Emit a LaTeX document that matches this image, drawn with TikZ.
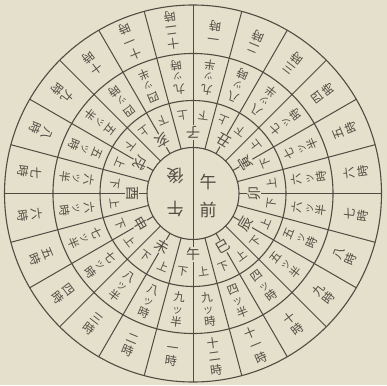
\documentclass[tikz,border=0pt]{standalone}
\usepackage{fontspec}
\newfontfamily\jp{Noto Sans CJK JP}
\definecolor{bg}{RGB}{229,224,204}
\definecolor{ink}{RGB}{80,76,66}
\newcommand\tsu{{\fontsize{9}{10}\selectfont ツ}}
\tikzset{
  ringline/.style={draw=ink, line width=1.1pt},
  spoke/.style={draw=ink, line width=1pt},
  lbl/.style={text=ink, font=\jp\fontsize{12}{13.5}\selectfont, align=center, inner sep=0pt},
  midlbl/.style={text=ink, font=\jp\fontsize{11.5}{12.5}\selectfont, align=center, inner sep=0pt},
  zod/.style={text=ink, font=\jp\fontsize{14}{16}\selectfont, fill=bg, inner sep=1pt},
  sublbl/.style={text=ink, font=\jp\fontsize{11}{12}\selectfont, inner sep=0pt},
  ctr/.style={text=ink, font=\jp\fontsize{17}{19}\selectfont, inner sep=0pt}
}
\begin{document}
\begin{tikzpicture}[x=1pt,y=1pt]
\fill[bg] (-193,-191.5) rectangle (194,193.5);
\useasboundingbox (-193,-191.5) rectangle (194,193.5);
% rings
\draw[ringline] (0,0) circle (188.5);
\draw[ringline] (0,0) circle (140);
\draw[ringline] (0,0) circle (93);
\draw[ringline] (0,0) circle (46);
% spokes
\draw[spoke] (90:188.5) -- (270:188.5);
\foreach \a in {1,...,11,13,14,...,23} {
  \draw[spoke] ({90-15*\a}:46) -- ({90-15*\a}:188.5);
}
% outer ring: hours
\foreach \t [count=\i from 0] in {{一\\時},{二\\時},{三\\時},{四\\時},{五\\時},{六\\時},{七\\時},{八\\時},{九\\時},{十\\時},{十\\一\\時},{十\\二\\時}} {
  \foreach \h in {0,12} {
    \pgfmathsetmacro\th{15*(\i+\h)+7.5}
    \node[lbl, rotate=180-\th] (o\i-\h) at ({90-\th}:164.5) {\t};
  }
}
% middle ring: traditional times
\foreach \t [count=\i from 0] in {{九\\\tsu\\半},{八\\\tsu\\時},{八\\\tsu\\半},{七\\\tsu\\時},{七\\\tsu\\半},{六\\\tsu\\時},{六\\\tsu\\半},{五\\\tsu\\時},{五\\\tsu\\半},{四\\\tsu\\時},{四\\\tsu\\半},{九\\\tsu\\時}} {
  \foreach \h in {0,12} {
    \pgfmathsetmacro\th{15*(\i+\h)+7.5}
    \node[midlbl, rotate=180-\th] (m\i-\h) at ({90-\th}:117) {\t};
  }
}
% zodiac ring
\foreach \z [count=\j from 0] in {子,丑,寅,卯,辰,巳,午,未,申,酉,戌,亥} {
  \node[zod, rotate=180-30*\j] (z\j) at ({90-30*\j}:61) {\z};
  \node[sublbl, rotate=180-30*\j+7.5] (u\j) at ({90-30*\j+7.5}:79) {上};
  \node[sublbl, rotate=180-30*\j-7.5] (d\j) at ({90-30*\j-7.5}:79) {下};
}
% centre
\node[ctr] (am1) at (15,11) {午};
\node[ctr] (am2) at (15,-16) {前};
\node[ctr, rotate=180] (pm2) at (-18,18) {後};
\node[ctr, rotate=180] (pm1) at (-18,-15) {午};
\end{tikzpicture}
\end{document}
